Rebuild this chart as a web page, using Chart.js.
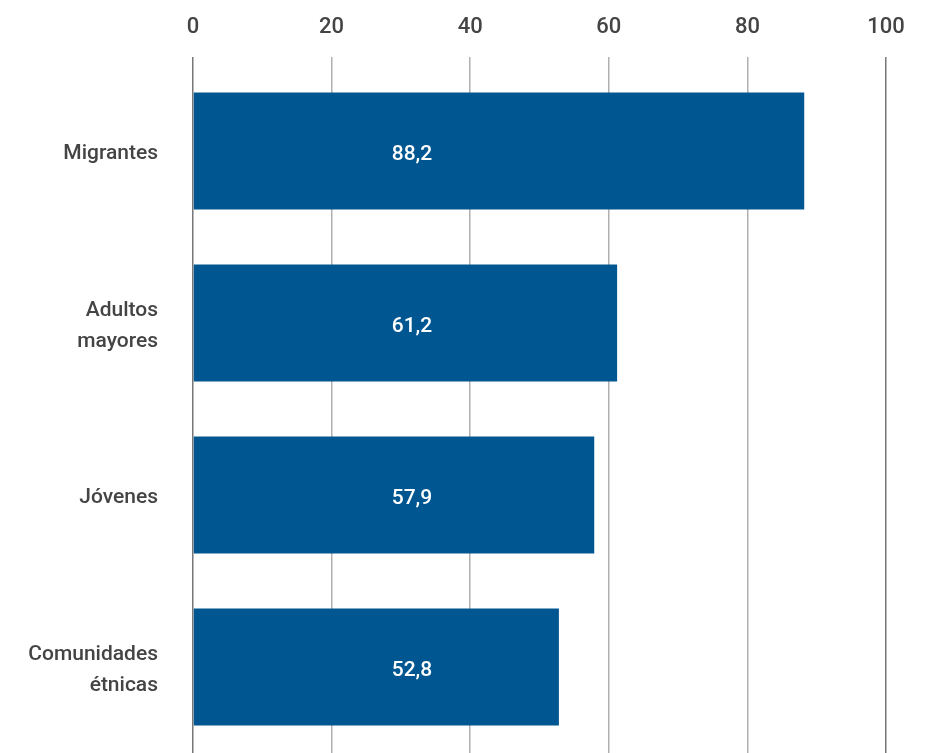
<!DOCTYPE html>
<html>
<head>
<meta charset="utf-8">
<script src="https://cdn.jsdelivr.net/npm/chart.js@4/dist/chart.umd.min.js"></script>
<style>
  html, body { margin: 0; padding: 0; background: #fff; }
  #wrap { width: 931px; height: 753px; }
</style>
</head>
<body>
<div id="wrap"><canvas id="barChart"></canvas></div>
<script>
// datos
var grupos = [['Migrantes'], ['Adultos', 'mayores'], ['Jóvenes'], ['Comunidades', 'étnicas']];
var valores = [88.2, 61.2, 57.9, 52.8];
var ticksX = [0, 20, 40, 60, 80, 100];
var posEtiqueta = 31.6; // las etiquetas quedan alineadas en una misma columna

var fuente = "Roboto, 'DejaVu Sans Condensed', sans-serif";

var etiquetasPlugin = {
    id: 'etiquetas',
    afterDatasetsDraw: function (chart) {
        var ctx = chart.ctx;
        var meta = chart.getDatasetMeta(0);
        var x = chart.scales.x.getPixelForValue(posEtiqueta);
        ctx.save();
        ctx.fillStyle = '#ffffff';
        ctx.font = '500 21px ' + fuente;
        ctx.textAlign = 'center';
        ctx.textBaseline = 'middle';
        for (var i = 0; i < meta.data.length; i++) {
            ctx.fillText(valores[i].toFixed(1).replace('.', ','), x, meta.data[i].y + 4);
        }
        ctx.restore();
    }
};

var ctx = document.getElementById('barChart').getContext('2d');
var chart = new Chart(ctx, {
    type: 'bar',
    data: {
        labels: grupos,
        datasets: [{
            data: valores,
            backgroundColor: '#005691',
            barPercentage: 0.68,
            categoryPercentage: 1
        }]
    },
    options: {
        indexAxis: 'y',
        responsive: true,
        maintainAspectRatio: false,
        animation: false,
        layout: { padding: { left: 0, right: 45, top: 0, bottom: 0 } },
        plugins: { legend: { display: false }, tooltip: { enabled: false } },
        scales: {
            x: {
                position: 'top',
                min: 0,
                max: 100,
                afterBuildTicks: function (axis) {
                    axis.ticks = ticksX.map(function (v) { return { value: v }; });
                },
                afterFit: function (axis) { axis.height = 65; },
                grid: {
                    color: function (c) {
                        return (c.tick && (c.tick.value === 0 || c.tick.value === 100)) ? '#777777' : '#b0b0b0';
                    },
                    lineWidth: 1.5,
                    tickLength: 8,
                    drawTicks: true
                },
                border: { display: false },
                ticks: {
                    color: '#444444',
                    font: { family: fuente, size: 22, weight: '500' },
                    padding: 16
                }
            },
            y: {
                afterFit: function (axis) {
                    axis.width = 193;
                    axis.paddingTop = 0;
                    axis.paddingBottom = 0;
                },
                grid: { display: false },
                border: { display: false },
                ticks: {
                    color: '#444444',
                    font: { family: fuente, size: 21, weight: '500', lineHeight: 1.5 },
                    padding: 27,
                    labelOffset: 3
                }
            }
        }
    },
    plugins: [etiquetasPlugin]
});
</script>
</body>
</html>
